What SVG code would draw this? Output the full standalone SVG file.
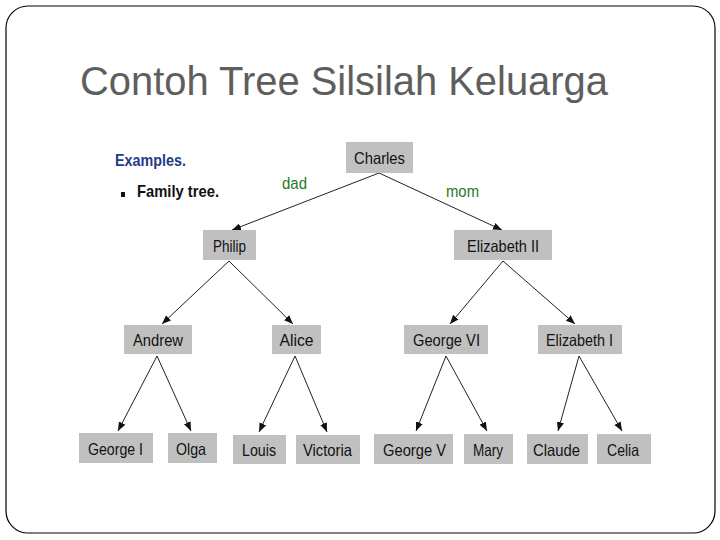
<svg xmlns="http://www.w3.org/2000/svg" width="720" height="540" viewBox="0 0 720 540">
<style>
.node rect{fill:#c0c0c0;}
.node text{font-family:"Liberation Sans",Arial,sans-serif;font-size:16.5px;fill:#111;text-anchor:middle;}
.edge{stroke:#222;stroke-width:1;fill:none;marker-end:url(#arr);}
.lbl{font-family:"Liberation Sans",Arial,sans-serif;font-size:16px;fill:#1e7a1e;}
</style>
<defs>
<marker id="arr" viewBox="0 0 10 10" refX="10" refY="5" markerWidth="9" markerHeight="9" markerUnits="userSpaceOnUse" orient="auto">
<path d="M0,1 L10,5 L0,9 Z" fill="#111"/>
</marker>
</defs>
<rect x="6" y="6" width="709" height="527" rx="22" ry="22" fill="#fff" stroke="#000" stroke-width="1.2"/>
<text x="80" y="95" font-family="Liberation Sans,Arial,sans-serif" font-size="40" fill="#5e5e5e" textLength="528" lengthAdjust="spacingAndGlyphs">Contoh Tree Silsilah Keluarga</text>
<text x="115" y="166" font-family="Liberation Sans,Arial,sans-serif" font-size="17" font-weight="bold" fill="#1f3c88" textLength="71" lengthAdjust="spacingAndGlyphs">Examples.</text>
<rect x="121" y="192" width="4" height="5" fill="#111"/>
<text x="137" y="197" font-family="Liberation Sans,Arial,sans-serif" font-size="17" font-weight="bold" fill="#111" textLength="82" lengthAdjust="spacingAndGlyphs">Family tree.</text>
<g id="connectors">
<line class="edge" x1="379" y1="173" x2="232" y2="230"/>
<line class="edge" x1="379" y1="173" x2="502" y2="230"/>
<line class="edge" x1="229" y1="261" x2="162" y2="324"/>
<line class="edge" x1="229" y1="261" x2="293" y2="324"/>
<line class="edge" x1="503" y1="261" x2="450" y2="324"/>
<line class="edge" x1="503" y1="261" x2="575" y2="324"/>
<line class="edge" x1="157" y1="356" x2="118" y2="431"/>
<line class="edge" x1="157" y1="356" x2="191" y2="431"/>
<line class="edge" x1="295" y1="356" x2="259" y2="432"/>
<line class="edge" x1="295" y1="356" x2="327" y2="432"/>
<line class="edge" x1="446" y1="356" x2="416" y2="431"/>
<line class="edge" x1="446" y1="356" x2="487" y2="431"/>
<line class="edge" x1="579" y1="356" x2="558" y2="431"/>
<line class="edge" x1="579" y1="356" x2="622" y2="431"/>
<text class="lbl" x="282" y="189" textLength="25" lengthAdjust="spacingAndGlyphs">dad</text>
<text class="lbl" x="446" y="197" textLength="33" lengthAdjust="spacingAndGlyphs">mom</text>
</g>
<g id="n-charles" class="node"><rect x="346" y="142" width="67" height="31"/><text x="379.5" y="164" textLength="51" lengthAdjust="spacingAndGlyphs">Charles</text></g>
<g id="n-philip" class="node"><rect x="203" y="230" width="53" height="30"/><text x="229.5" y="251.5" textLength="33" lengthAdjust="spacingAndGlyphs">Philip</text></g>
<g id="n-elizabeth2" class="node"><rect x="454" y="230" width="98" height="30"/><text x="503" y="251.5" textLength="72" lengthAdjust="spacingAndGlyphs">Elizabeth II</text></g>
<g id="n-andrew" class="node"><rect x="124" y="325" width="68" height="29"/><text x="158" y="345.5" textLength="50" lengthAdjust="spacingAndGlyphs">Andrew</text></g>
<g id="n-alice" class="node"><rect x="272" y="325" width="49" height="29"/><text x="296.5" y="345.5" textLength="34" lengthAdjust="spacingAndGlyphs">Alice</text></g>
<g id="n-george6" class="node"><rect x="404" y="325" width="84" height="29"/><text x="446.5" y="345.5" textLength="67" lengthAdjust="spacingAndGlyphs">George VI</text></g>
<g id="n-elizabeth1" class="node"><rect x="538" y="325" width="84" height="29"/><text x="579.5" y="345.5" textLength="67" lengthAdjust="spacingAndGlyphs">Elizabeth I</text></g>
<g id="n-george1" class="node"><rect x="79" y="433" width="74" height="30"/><text x="115.5" y="454.5" textLength="55" lengthAdjust="spacingAndGlyphs">George I</text></g>
<g id="n-olga" class="node"><rect x="168" y="433" width="49" height="30"/><text x="191" y="454.5" textLength="30" lengthAdjust="spacingAndGlyphs">Olga</text></g>
<g id="n-louis" class="node"><rect x="233" y="435" width="53" height="29"/><text x="259" y="455.5" textLength="34" lengthAdjust="spacingAndGlyphs">Louis</text></g>
<g id="n-victoria" class="node"><rect x="296" y="435" width="64" height="29"/><text x="327.5" y="455.5" textLength="49" lengthAdjust="spacingAndGlyphs">Victoria</text></g>
<g id="n-george5" class="node"><rect x="374" y="434" width="79" height="30"/><text x="414.5" y="455.5" textLength="63" lengthAdjust="spacingAndGlyphs">George V</text></g>
<g id="n-mary" class="node"><rect x="464" y="434" width="49" height="30"/><text x="488" y="455.5" textLength="30" lengthAdjust="spacingAndGlyphs">Mary</text></g>
<g id="n-claude" class="node"><rect x="527" y="434" width="61" height="30"/><text x="556.5" y="455.5" textLength="47" lengthAdjust="spacingAndGlyphs">Claude</text></g>
<g id="n-celia" class="node"><rect x="597" y="434" width="54" height="30"/><text x="623" y="455.5" textLength="32" lengthAdjust="spacingAndGlyphs">Celia</text></g>
</svg>
